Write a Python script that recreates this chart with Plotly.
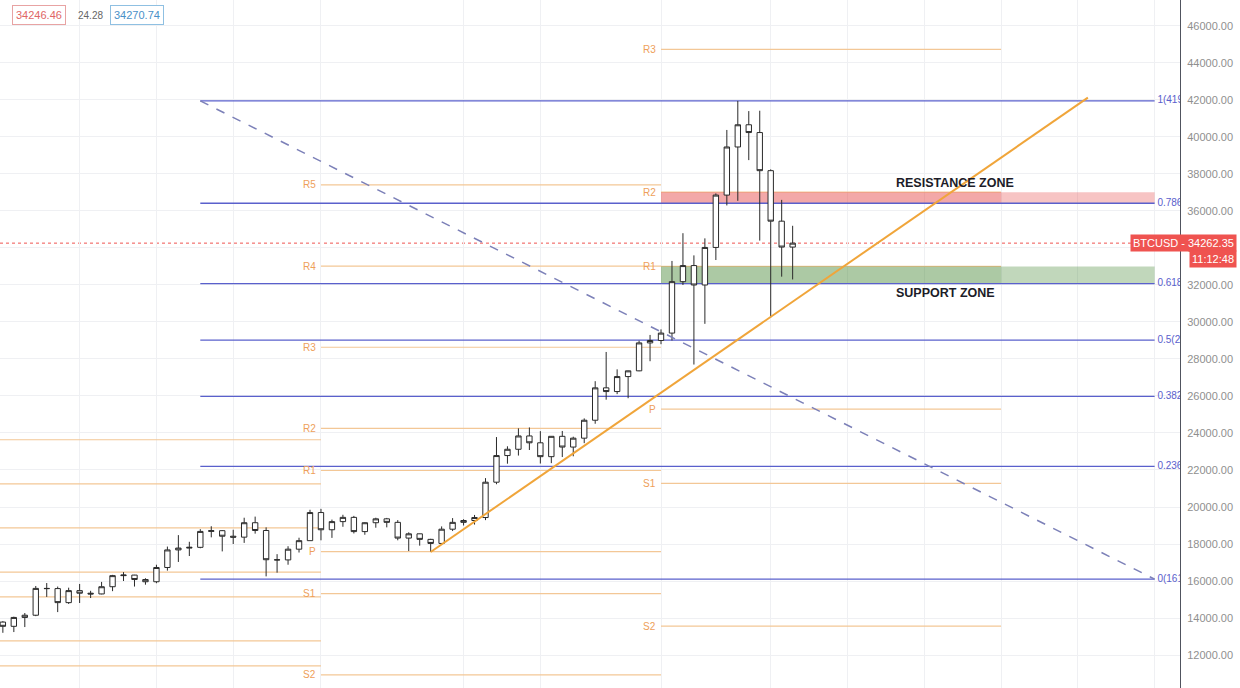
import plotly.graph_objects as go
import pandas as pd

# ---------------- data ----------------
dates = pd.date_range("2020-11-02", "2021-01-13", freq="D").strftime("%Y-%m-%d").tolist()

open_ = [13780, 13550, 14030, 14150, 15600, 15590, 14830, 15480, 15340, 15300,
         15690, 16290, 16320, 16080, 15960, 16730, 17680, 17780, 17820, 18680,
         18720, 18420, 18370, 19150, 18730, 17150, 17140, 17720, 18180,
         19700, 18770, 19210, 19440, 18670, 19150, 19360, 19170, 18320, 18550,
         18250, 18030, 18800, 19170, 19270, 19430, 21340, 22780, 23120, 23840,
         23470, 22720, 23820, 23240, 23720, 24690, 26440, 26240, 27050, 27360,
         28870,
         29000, 29400, 32180, 33050, 32000, 34030, 36860, 39460, 40660, 40240,
         38180, 35450, 34050]
high = [13830, 14070, 14270, 15730, 15890, 15700, 15640, 15840, 15470, 15950,
        16330, 16480, 16330, 16150, 16880, 17860, 18480, 18120, 18800, 18960,
        18750, 18770, 19420, 19480, 18900, 17450, 17880, 18340, 19850,
        19900, 19320, 19580, 19520, 19170, 19420, 19410, 19290, 18630, 18560,
        18280, 18950, 19400, 19340, 19570, 21560, 23780, 23280, 24250, 24300,
        24100, 23810, 24110, 23800, 24790, 26800, 28380, 27440, 27370, 28990,
        29300,
        29600, 33300, 34800, 33600, 34520, 36950, 40380, 41950, 41400, 41420,
        38250, 36600, 35200]
low = [13200, 13240, 13510, 14100, 15140, 14320, 14760, 14810, 15080, 15280,
       15450, 16000, 15700, 15800, 15880, 16560, 17030, 17350, 17770, 18360,
       17600, 18000, 18060, 18560, 16250, 16450, 16880, 17540, 18180,
       18200, 18330, 18930, 18570, 18500, 18880, 18900, 18200, 17620, 17910,
       17570, 18010, 18700, 19000, 19050, 19290, 21230, 22340, 22780, 23080,
       22350, 22370, 22700, 22740, 23450, 24500, 25800, 26100, 25880, 27340,
       27880,
       28800, 29000, 32000, 27700, 29900, 33350, 36300, 36550, 38750, 34400,
       30250, 32450, 32300]
close = [13550, 14030, 14150, 15600, 15590, 14830, 15480, 15340, 15300, 15690,
         16290, 16320, 16080, 15960, 16730, 17680, 17780, 17820, 18680, 18720,
         18420, 18370, 19150, 18730, 17150, 17140, 17720, 18180, 19700,
         18770, 19210, 19440, 18670, 19150, 19360, 19170, 18320, 18550, 18250,
         18030, 18800, 19170, 19270, 19430, 21340, 22780, 23120, 23840, 23470,
         22720, 23820, 23240, 23720, 24690, 26440, 26240, 27050, 27360, 28870,
         29000,
         29400, 32180, 33050, 32000, 34030, 36860, 39460, 40660, 40240, 38180,
         35450, 34050, 34262.35]

last_price = 34262.35
bid_price = 34246.46
ask_price = 34270.74
spread = 24.28
countdown = "11:12:48"

# monthly pivot points (start, end, labels, values)
nov_start, nov_end = "2020-11-01", "2020-12-01"
nov_labels = ["R5", "R4", "R3", "R2", "R1", "P", "S1"]
nov_values = [23636, 21252, 18868, 16484, 15142, 12758, 11416]

dec_start, dec_end = "2020-12-01", "2021-01-01"
dec_labels = ["R5", "R4", "R3", "R2", "R1", "P", "S1", "S2"]
dec_values = [37408, 33021, 28634, 24247, 21974, 17587, 15314, 10927]

jan_start, jan_end = "2021-01-01", "2021-02-01"
jan_labels = ["R3", "R2", "R1", "P", "S1", "S2"]
jan_values = [44734, 37017, 33004, 25287, 21274, 13557]

# Fibonacci retracement
fib_start, fib_end = "2020-11-20", "2021-02-15"
fib_ratios = ["1", "0.786", "0.618", "0.5", "0.382", "0.236", "0"]
fib_values = [41950, 36418, 32075, 29025, 25975, 22201, 16100]

# trend line
trend_x = ["2020-12-11", "2021-02-08 22:00"]
trend_y = [17570, 42130]

# zones
res_zone = [36418, 37017]
sup_zone = [32075, 33004]
zone_start, zone_mid, zone_end = "2021-01-01", "2021-02-01", "2021-02-15"

grid_dates = ["2020-11-09", "2020-11-16", "2020-11-23", "2020-12-01", "2020-12-14",
              "2020-12-21", "2021-01-01", "2021-01-11", "2021-01-18", "2021-01-25",
              "2021-02-01", "2021-02-08", "2021-02-15"]
y_ticks = list(range(12000, 46001, 2000))

# ---------------- styles ----------------
FONT = "Liberation Sans, Arial, sans-serif"
PIVOT_LINE = "#f3c796"
PIVOT_TEXT = "#eea05a"
FIB = "#5a60cc"
GRID = "#eff0f3"

fig = go.Figure()

fig.add_trace(go.Candlestick(
    x=dates, open=open_, high=high, low=low, close=close,
    increasing=dict(line=dict(color="#2a2a2a", width=1), fillcolor="#ffffff"),
    decreasing=dict(line=dict(color="#2a2a2a", width=1), fillcolor="#ffffff"),
    whiskerwidth=0, showlegend=False, hoverinfo="skip",
))

shapes = []
annotations = []

def hline(x0, x1, y, color, width=1, dash="solid", layer="between"):
    shapes.append(dict(type="line", xref="x", yref="y", x0=x0, x1=x1, y0=y, y1=y,
                       line=dict(color=color, width=width, dash=dash), layer=layer))

# pivots
for start, end, labels, values, show in [
        (nov_start, nov_end, nov_labels, nov_values, False),
        (dec_start, dec_end, dec_labels, dec_values, True),
        (jan_start, jan_end, jan_labels, jan_values, True)]:
    for lab, v in zip(labels, values):
        hline(start, end, v, PIVOT_LINE, 1.2)
        if show:
            annotations.append(dict(x=start, y=v, xref="x", yref="y", text=lab,
                                    showarrow=False, xanchor="right", yanchor="middle",
                                    xshift=-3, font=dict(family=FONT, size=10, color=PIVOT_TEXT)))

# zones
shapes.append(dict(type="rect", xref="x", yref="y", x0=zone_start, x1=zone_end,
                   y0=res_zone[0], y1=res_zone[1], fillcolor="rgba(230,70,70,0.32)",
                   line=dict(width=0), layer="between"))
shapes.append(dict(type="rect", xref="x", yref="y", x0=zone_start, x1=zone_mid,
                   y0=res_zone[0], y1=res_zone[1], fillcolor="rgba(230,70,70,0.22)",
                   line=dict(width=0), layer="between"))
shapes.append(dict(type="rect", xref="x", yref="y", x0=zone_start, x1=zone_end,
                   y0=sup_zone[0], y1=sup_zone[1], fillcolor="rgba(76,140,60,0.35)",
                   line=dict(width=0), layer="between"))
shapes.append(dict(type="rect", xref="x", yref="y", x0=zone_start, x1=zone_mid,
                   y0=sup_zone[0], y1=sup_zone[1], fillcolor="rgba(76,140,60,0.18)",
                   line=dict(width=0), layer="between"))

# fib lines
for v in fib_values:
    hline(fib_start, fib_end, v, FIB, 1.3)
shapes.append(dict(type="line", xref="x", yref="y", x0=fib_start, x1=fib_end,
                   y0=fib_values[0], y1=fib_values[-1],
                   line=dict(color="#7c80b8", width=1.5, dash="dash"), layer="above"))

# current price line
shapes.append(dict(type="line", xref="paper", yref="y", x0=0, x1=1, y0=last_price, y1=last_price,
                   line=dict(color="#ef5350", width=1, dash="dot"), layer="between"))

# trend line
fig.add_trace(go.Scatter(x=trend_x, y=trend_y, mode="lines",
                         line=dict(color="#f0a53a", width=2), showlegend=False, hoverinfo="skip"))

# fib labels (clipped by the plot area)
fig.add_trace(go.Scatter(
    x=[fib_end] * len(fib_values), y=fib_values, mode="text",
    text=[f" {r}({v:.2f})" for r, v in zip(fib_ratios, fib_values)],
    textposition="middle right", cliponaxis=True,
    textfont=dict(family=FONT, size=10, color=FIB), showlegend=False, hoverinfo="skip"))

# zone texts
annotations.append(dict(x="2021-01-22 06:00", y=37530, xref="x", yref="y",
                        text="<b>RESISTANCE ZONE</b>", showarrow=False, xanchor="left",
                        yanchor="middle", font=dict(family=FONT, size=12.5, color="#1c1c28")))
annotations.append(dict(x="2021-01-22 06:00", y=31560, xref="x", yref="y",
                        text="<b>SUPPORT ZONE</b>", showarrow=False, xanchor="left",
                        yanchor="middle", font=dict(family=FONT, size=12.5, color="#1c1c28")))

# price labels on the axis
annotations.append(dict(x=1.0483, y=last_price, xref="paper", yref="y",
                        text=f"BTCUSD - {last_price:.2f}", showarrow=False, xanchor="right",
                        yanchor="middle", bgcolor="#ef5350", borderpad=2,
                        font=dict(family=FONT, size=11, color="#ffffff")))
annotations.append(dict(x=1.0483, y=last_price, xref="paper", yref="y", yshift=-16,
                        text=countdown, showarrow=False, xanchor="right",
                        yanchor="middle", bgcolor="#ef5350", borderpad=2,
                        font=dict(family=FONT, size=11, color="#ffffff")))

# top-left bid/ask boxes
annotations.append(dict(x=12 / 1180, y=1 - 15 / 688, xref="paper", yref="paper",
                        text=f"{bid_price:.2f}", showarrow=False, xanchor="left", yanchor="middle",
                        bordercolor="#e8a3a3", borderwidth=1, borderpad=3, bgcolor="#ffffff",
                        font=dict(family=FONT, size=11, color="#e06666")))
annotations.append(dict(x=90 / 1180, y=1 - 15 / 688, xref="paper", yref="paper",
                        text=f"{spread:.2f}", showarrow=False, xanchor="center", yanchor="middle",
                        font=dict(family=FONT, size=10, color="#666666")))
annotations.append(dict(x=110 / 1180, y=1 - 15 / 688, xref="paper", yref="paper",
                        text=f"{ask_price:.2f}", showarrow=False, xanchor="left", yanchor="middle",
                        bordercolor="#8fc0e2", borderwidth=1, borderpad=3, bgcolor="#ffffff",
                        font=dict(family=FONT, size=11, color="#4a90c8")))

fig.update_layout(
    width=1240, height=688,
    margin=dict(l=0, r=60, t=0, b=0),
    paper_bgcolor="#ffffff", plot_bgcolor="#ffffff",
    shapes=shapes, annotations=annotations,
    showlegend=False, hovermode=False,
    font=dict(family=FONT),
    xaxis=dict(type="date", range=["2020-11-01 17:45", "2021-02-17 07:30"],
               rangeslider=dict(visible=False), showticklabels=False,
               tickvals=grid_dates, showgrid=True, gridcolor=GRID, gridwidth=1,
               zeroline=False, showline=False, ticks=""),
    yaxis=dict(side="right", range=[10216, 47405], tickvals=y_ticks, tickformat=".2f",
               showgrid=True, gridcolor=GRID, gridwidth=1, zeroline=False,
               showline=True, linecolor="#50535e", linewidth=1,
               ticks="outside", ticklen=4, tickcolor="rgba(0,0,0,0)",
               tickfont=dict(family=FONT, size=11, color="#8f8f8f")),
)

fig.write_html("out.html", config={"displayModeBar": False},
               post_script="document.body.style.margin='0';document.body.style.overflow='hidden';")
